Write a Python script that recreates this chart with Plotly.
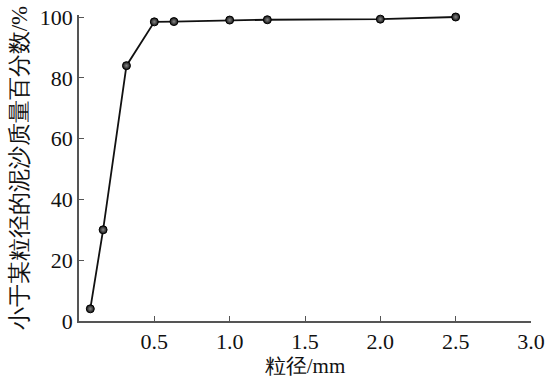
import plotly.graph_objects as go

particle_size_mm = [0.075, 0.16, 0.315, 0.5, 0.63, 1.0, 1.25, 2.0, 2.5]
percent_finer = [4.0, 30.0, 84.0, 98.4, 98.5, 99.0, 99.1, 99.3, 100.0]

x_ticks = [0.5, 1.0, 1.5, 2.0, 2.5, 3.0]
x_tick_text = ["0.5", "1.0", "1.5", "2.0", "2.5", "3.0"]
y_ticks = [0, 20, 40, 60, 80, 100]

x_title = "粒径/mm"
y_title = "小于某粒径的泥沙质量百分数/%"

fig = go.Figure()
fig.add_trace(go.Scatter(
    x=particle_size_mm, y=percent_finer, mode="lines+markers",
    line=dict(color="#111111", width=1.8),
    marker=dict(size=8, color="#111111",
                gradient=dict(type="radial", color="#888888"),
                line=dict(color="#000000", width=1)),
    cliponaxis=False, showlegend=False,
))

serif = "Liberation Serif"
tick_font = dict(family=serif, size=22, color="#111111")
title_font = dict(family=serif, size=23, color="#111111")

fig.update_layout(
    width=546, height=378,
    margin=dict(l=79, r=15, t=15, b=57),
    paper_bgcolor="white", plot_bgcolor="white",
    font=dict(family=serif),
    xaxis=dict(
        range=[0, 3.0], tickvals=x_ticks, ticktext=x_tick_text,
        ticks="inside", ticklen=5, tickwidth=1.2, tickcolor="#555555",
        showline=True, linecolor="#555555", linewidth=1.5,
        showgrid=False, zeroline=False, tickfont=tick_font,
        title=dict(text=x_title, font=dict(family=serif, size=21, color="#111111"), standoff=0),
        automargin=False,
    ),
    yaxis=dict(
        range=[0, 100.66], tickvals=y_ticks,
        ticks="inside", ticklen=5, tickwidth=1.2, tickcolor="#555555",
        showline=True, linecolor="#555555", linewidth=1.5,
        showgrid=False, zeroline=False, tickfont=tick_font,
        title=dict(text=y_title, font=title_font, standoff=6),
        automargin=False,
    ),
)

fig.write_html("out.html")
